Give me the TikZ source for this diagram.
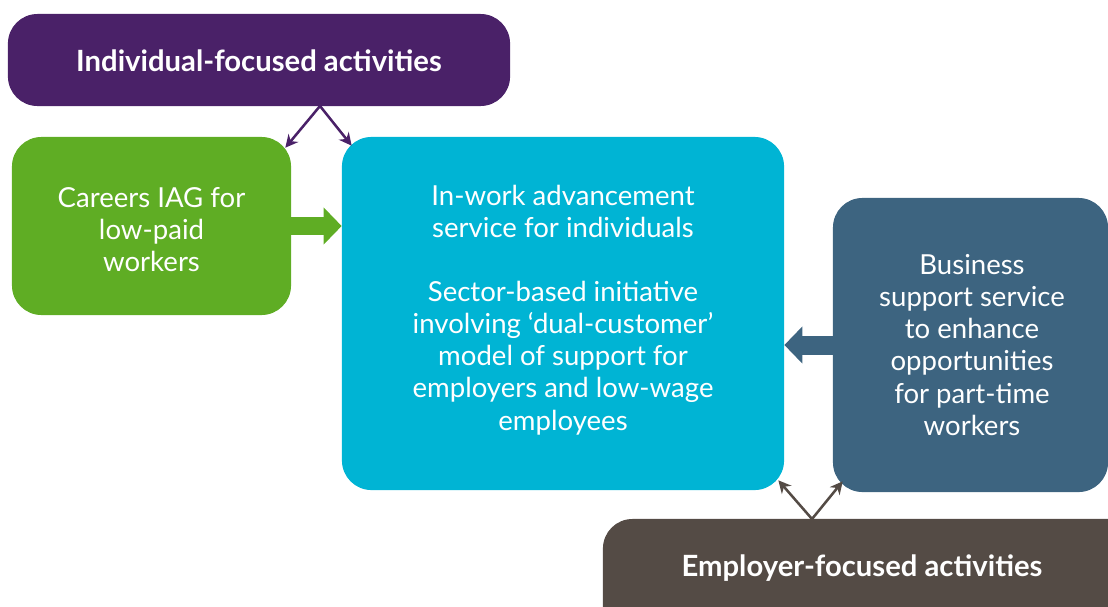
\documentclass[tikz,border=0pt]{standalone}
\usepackage{fontspec}
\setmainfont{Lato}
\usetikzlibrary{arrows.meta,calc}
\definecolor{cpurple}{RGB}{74,33,104}
\definecolor{cgreen}{RGB}{95,173,36}
\definecolor{ccyan}{RGB}{0,180,212}
\definecolor{cslate}{RGB}{61,100,128}
\definecolor{cbrown}{RGB}{84,75,69}
\tikzset{
  box/.style={rounded corners=21pt, inner sep=0pt, align=center, text=white,
    font=\fontsize{19.6}{22.8}\selectfont},
  titlebox/.style={box, font=\fontsize{20.8}{22.8}\selectfont\bfseries},
  thinarrow/.style={line width=1.8pt, -{Stealth[length=9pt,width=9pt]}},
  fatarrow/.style={line width=13.5pt, -{Triangle[length=12.8pt,width=25.6pt]}},
}
\begin{document}
\begin{tikzpicture}[x=0.025cm,y=-0.025cm]
\useasboundingbox (0,0) rectangle (1108,606);
\clip (0,0) rectangle (1108,606);
\node[box, fill=cpurple, minimum width=12.55cm, minimum height=2.3cm] (ind) at (259,60) {};
\node[titlebox] (indtext) at (259,61) {Individual-focused activities};
\node[box, fill=cgreen, minimum width=6.975cm, minimum height=4.45cm] (car) at (151.5,226) {};
\node[box] (cartext) at (151.5,230) {Careers IAG for\\low-paid\\workers};
\node[box, fill=ccyan, minimum width=11.05cm, minimum height=8.825cm] (adv) at (563,313.5) {};
\node[box] (advtext) at (563,310) {In-work advancement\\service for individuals\\[22.8pt]Sector-based initiative\\involving ‘dual-customer’\\model of support for\\employers and low-wage\\employees};
\node[box, fill=cslate, minimum width=6.875cm, minimum height=7.35cm] (biz) at (970.5,345) {};
\node[box] (biztext) at (972,345) {Business\\support service\\to enhance\\opportunities\\for part-time\\workers};
\node[box, fill=cbrown, minimum width=13.425cm, minimum height=3.025cm] (emp) at (871.5,579.5) {};
\node[titlebox] (emptext) at (862,568) {Employer-focused activities};
\coordinate (ia) at (320,106);
\coordinate (ea) at (812,519);
\draw[thinarrow, cpurple] (ia) -- ($(car.north east)+(-6,11)$);
\draw[thinarrow, cpurple] (ia) -- ($(adv.north west)+(10,9)$);
\draw[thinarrow, cbrown] (ea) -- ($(adv.south east)+(-6,-10)$);
\draw[thinarrow, cbrown] (ea) -- ($(biz.south west)+(10,-11)$);
\draw[fatarrow, cgreen] (car.east) -- (car.east -| adv.west);
\draw[fatarrow, cslate] (biz.west) -- (biz.west -| adv.east);
\end{tikzpicture}
\end{document}
